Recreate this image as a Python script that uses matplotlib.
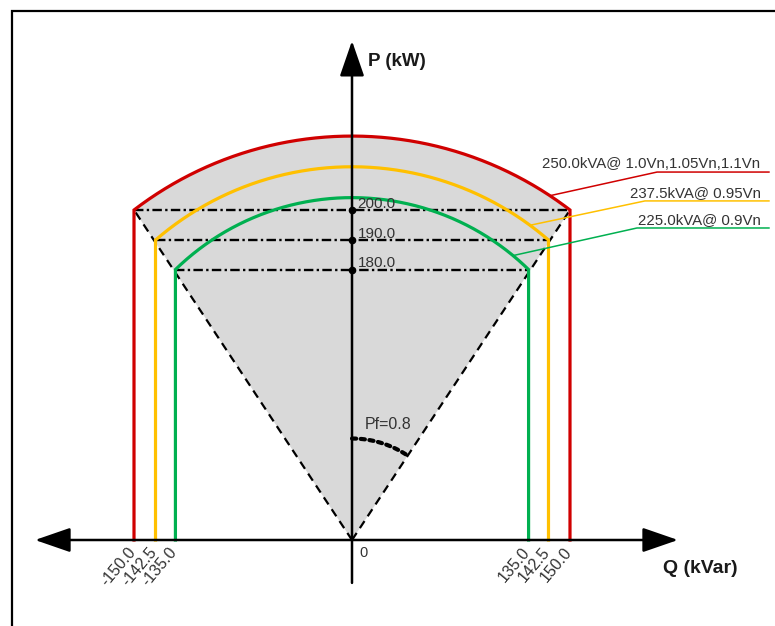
import numpy as np
import matplotlib
matplotlib.use('Agg')
from matplotlib import pyplot as plt
from matplotlib.patches import Rectangle

plt.rcParams['font.family'] = ['Liberation Sans', 'DejaVu Sans']

# capability curves (drawn in diagram units, labels give the real values)
ratings = ['250.0kVA@ 1.0Vn,1.05Vn,1.1Vn', '237.5kVA@ 0.95Vn', '225.0kVA@ 0.9Vn']
colors = ['#d00000', '#ffc000', '#00b050']
q_corner = [150.0, 135.2, 121.5]
p_corner = [200.0, 181.8, 163.9]
p_top = [244.8, 226.2, 207.5]
q_labels = ['150.0', '142.5', '135.0']
p_labels = ['200.0', '190.0', '180.0']

# px per diagram unit, used to keep the arcs circular on screen
kx, ky = 1.4533, 1.65


def arc(qm, pc, pt, n=200):
	r = ky / kx
	h = (pt - pc) * r
	R = (qm**2 + h**2) / (2 * h)
	yc = pt * r - R
	th = np.linspace(-np.arcsin(qm / R), np.arcsin(qm / R), n)
	return R * np.sin(th), (yc + R * np.cos(th)) / r


def arc_p(qm, pc, pt, q):
	xs, ys = arc(qm, pc, pt, 2000)
	return np.interp(q, xs, ys)


fig = plt.figure(figsize=(7.75, 6.26), dpi=100)
ax = fig.add_axes([0, 0, 1, 1])
ax.set_xlim(-352 / kx, 423 / kx)
ax.set_ylim(-86 / ky, 540 / ky)
ax.axis('off')

# frame
fig.add_artist(Rectangle((12 / 775, -0.1), 1.2, 0.1 + 1 - 11 / 626, transform=fig.transFigure,
						 fill=False, lw=1.6, ec='black'))

# grey operating area
xs, ys = arc(q_corner[0], p_corner[0], p_top[0])
ax.fill(np.r_[0, xs, 0], np.r_[0, ys, 0], color='#d9d9d9', lw=0, zorder=1)

# pf = 0.8 boundaries
for s in (-1, 1):
	ax.plot([0, s * q_corner[0]], [0, p_corner[0]], color='black', lw=1.6, ls=(0, (3.8, 2.6)), zorder=3)

# horizontal limits
for i in range(3):
	ax.plot([-q_corner[i], q_corner[i]], [p_corner[i]] * 2, color='black', lw=1.7,
			ls=(0, (4, 1.4, 1, 1.4)), zorder=3)
	ax.plot([0], [p_corner[i]], 'o', color='black', ms=4.5, zorder=5)
	ax.annotate(p_labels[i], xy=(0, p_corner[i]), xytext=(4, -0.5), textcoords='offset points',
				ha='left', va='bottom', fontsize=11, color='#333333', zorder=6)

# curves
for i in range(3):
	xs, ys = arc(q_corner[i], p_corner[i], p_top[i])
	ax.plot(np.r_[-q_corner[i], xs, q_corner[i]], np.r_[0, ys, 0], color=colors[i], lw=2.3,
			zorder=4, solid_joinstyle='miter')

# leader lines with labels
lead_q = [136.2, 122.5, 110.8]
elbow = [(209.9, 223.0), (201.6, 205.5), (196.1, 189.1)]
q_end = 286.9
for i in range(3):
	p0 = arc_p(q_corner[i], p_corner[i], p_top[i], lead_q[i])
	ax.plot([lead_q[i], elbow[i][0], q_end], [p0, elbow[i][1], elbow[i][1]], color=colors[i],
			lw=1.1, zorder=4)
	ax.annotate(ratings[i], xy=(q_end, elbow[i][1]), xytext=(-6, 1), textcoords='offset points',
				ha='right', va='bottom', fontsize=10.8, color='#333333')

# axes with arrows
ax.annotate('', xy=(-218.1, 0), xytext=(224.3, 0),
			arrowprops=dict(arrowstyle='<|-|>,head_length=1.1,head_width=0.38', mutation_scale=20,
							lw=1.8, color='black', shrinkA=0, shrinkB=0), zorder=6)
ax.annotate('', xy=(0, 302.5), xytext=(0, -26.0),
			arrowprops=dict(arrowstyle='-|>,head_length=1.1,head_width=0.38', mutation_scale=20,
							lw=1.8, color='black', shrinkA=0, shrinkB=0), zorder=6)
ax.text(11.0, 289.7, 'P (kW)', fontsize=13.5, fontweight='bold', color='#1a1a1a', va='center')
ax.text(239.5, -17.5, 'Q (kVar)', fontsize=14, fontweight='bold', color='#1a1a1a',
		va='center', ha='center')
ax.annotate('0', xy=(0, 0), xytext=(5, -4), textcoords='offset points', ha='left', va='top',
			fontsize=10.5, color='#333333')

# q tick labels
for i in range(3):
	for s in (-1, 1):
		lab = ('-' if s < 0 else '') + q_labels[i]
		ax.annotate(lab, xy=(s * q_corner[i], 0), xytext=(-5, -3), textcoords='offset points',
					ha='right', va='top', rotation=50, rotation_mode='anchor',
					fontsize=11.5, color='#333333')

# power factor angle
th = np.linspace(0, np.arctan((q_corner[0] / 69.0) / (p_corner[0] / 61.5)), 50)
ax.plot(69.0 * np.sin(th), 61.5 * np.cos(th), color='black', lw=3, ls=(0, (1, 1.1)),
		dash_capstyle='round', zorder=4)
ax.text(24.8, 69.7, 'Pf=0.8', fontsize=11.5, color='#333333', ha='center', va='center')

plt.savefig('out.png', dpi=100)
